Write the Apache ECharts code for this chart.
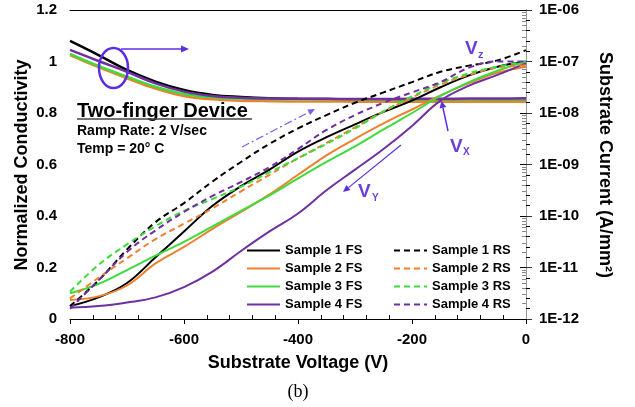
<!DOCTYPE html>
<html>
<head>
<meta charset="utf-8">
<script src="https://cdn.jsdelivr.net/npm/echarts@6/dist/echarts.min.js"></script>
<style>
  html, body { margin: 0; padding: 0; background: #fff; }
  #main { width: 635px; height: 407px; }
</style>
</head>
<body>
<div id="main"></div>
<script>
// substrate voltage (V)
var voltage = [-800, -750, -700, -650, -600, -550, -500, -450, -400, -350, -300, -250, -200, -150, -100, -50, 0];

// normalized conductivity (left axis)
var condS1 = [1.08, 1.025, 0.967, 0.922, 0.889, 0.870, 0.862, 0.857, 0.855, 0.854, 0.853, 0.853, 0.852, 0.852, 0.853, 0.852, 0.852];
var condS2 = [1.025, 0.978, 0.935, 0.895, 0.866, 0.853, 0.848, 0.846, 0.845, 0.845, 0.844, 0.844, 0.844, 0.844, 0.844, 0.844, 0.844];
var condS3 = [1.03, 0.983, 0.941, 0.902, 0.874, 0.861, 0.856, 0.854, 0.853, 0.853, 0.853, 0.852, 0.852, 0.852, 0.852, 0.852, 0.852];
var condS4 = [1.045, 1.002, 0.96, 0.915, 0.883, 0.866, 0.859, 0.856, 0.855, 0.855, 0.854, 0.854, 0.855, 0.855, 0.856, 0.856, 0.857];

// substrate current A/mm2 (right axis), forward sweep
var s1FS = [1.78e-12, 2.63e-12, 5.0e-12, 1.58e-11, 5.0e-11, 1.58e-10, 3.8e-10, 7.94e-10, 1.78e-9, 3.39e-9, 6.03e-9, 1.05e-8, 1.74e-8, 3.16e-8, 5.37e-8, 7.94e-8, 1.0e-7];
var s2FS = [2.34e-12, 2.75e-12, 4.47e-12, 1.2e-11, 2.51e-11, 5.62e-11, 1.2e-10, 2.63e-10, 6.31e-10, 1.51e-9, 3.16e-9, 6.31e-9, 1.17e-8, 2.19e-8, 3.8e-8, 6.03e-8, 7.94e-8];
var s3FS = [3.16e-12, 4.79e-12, 8.91e-12, 1.7e-11, 3.16e-11, 6.31e-11, 1.26e-10, 2.51e-10, 5.37e-10, 1.12e-9, 2.24e-9, 4.79e-9, 1.0e-8, 2.14e-8, 3.98e-8, 6.61e-8, 1.0e-7];
var s4FS = [1.66e-12, 1.78e-12, 2.09e-12, 2.63e-12, 4.17e-12, 8.32e-12, 2.09e-11, 5.01e-11, 1.12e-10, 3.16e-10, 7.94e-10, 2.0e-9, 5.62e-9, 1.74e-8, 3.39e-8, 5.5e-8, 9.33e-8];
// reverse sweep
var s1RS = [1.78e-12, 5.62e-12, 2.24e-11, 7.59e-11, 1.78e-10, 4.68e-10, 1.12e-9, 2.51e-9, 5.01e-9, 9.12e-9, 1.58e-8, 2.51e-8, 3.98e-8, 6.31e-8, 8.32e-8, 1.05e-7, 1.66e-7];
var s2RS = [2.51e-12, 6.31e-12, 1.51e-11, 3.55e-11, 7.08e-11, 1.41e-10, 3.02e-10, 6.31e-10, 1.32e-9, 2.63e-9, 5.25e-9, 1.07e-8, 2.0e-8, 3.55e-8, 5.5e-8, 7.59e-8, 8.51e-8];
var s3RS = [3.39e-12, 1.12e-11, 2.82e-11, 6.31e-11, 1.26e-10, 2.14e-10, 3.72e-10, 7.08e-10, 1.32e-9, 2.51e-9, 5.01e-9, 1.07e-8, 2.09e-8, 3.8e-8, 5.89e-8, 7.94e-8, 1.0e-7];
var s4RS = [1.58e-12, 5.62e-12, 2.0e-11, 5.25e-11, 1.2e-10, 2.45e-10, 4.57e-10, 8.91e-10, 2.0e-9, 4.68e-9, 9.12e-9, 1.58e-8, 2.51e-8, 3.98e-8, 7.59e-8, 1.0e-7, 1.0e-7];

var fsNames = ['Sample 1 FS', 'Sample 2 FS', 'Sample 3 FS', 'Sample 4 FS'];
var rsNames = ['Sample 1 RS', 'Sample 2 RS', 'Sample 3 RS', 'Sample 4 RS'];
var colors = ['#000000', '#f0802e', '#3cdc3c', '#7030a0'];

var FONT = '"Liberation Sans", Arial, sans-serif';
var VIOLET = '#5b2ee6';

function pairs(ys) {
    return voltage.map(function (v, i) { return [v, ys[i]]; });
}

// log minor tick positions for the right axis (k * 10^n)
var minorLog = [];
for (var n = -12; n < -6; n++) {
    for (var k = 2; k <= 9; k++) minorLog.push(n + Math.log10(k));
}

function arrow(x1, y1, x2, y2, color, w, head, hw, dash) {
    var a = Math.atan2(y2 - y1, x2 - x1);
    var bx = x2 - head * Math.cos(a), by = y2 - head * Math.sin(a);
    return [
        { type: 'line', z: 100, shape: { x1: x1, y1: y1, x2: bx, y2: by },
          style: { stroke: color, lineWidth: w, lineDash: dash || null } },
        { type: 'polygon', z: 100, shape: { points: [[x2, y2],
            [bx - hw * Math.sin(a), by + hw * Math.cos(a)],
            [bx + hw * Math.sin(a), by - hw * Math.cos(a)]] },
          style: { fill: color } }
    ];
}

function txt(x, y, text, font, color, align, rot) {
    return { type: 'text', z: 100, x: x, y: y, rotation: rot || 0,
        style: { text: text, font: font, fill: color || '#000', align: align || 'left', verticalAlign: 'middle' } };
}

var chart = echarts.init(document.getElementById('main'));

var series = [];
[condS1, condS2, condS3, condS4].forEach(function (d, i) {
    series.push({ name: 'cond' + (i + 1), type: 'line', xAxisIndex: 0, yAxisIndex: 0, data: pairs(d),
        symbol: 'none', smooth: 0.4, lineStyle: { color: colors[i], width: 2.5 }, itemStyle: { color: colors[i] } });
});
[s1FS, s2FS, s3FS, s4FS].forEach(function (d, i) {
    series.push({ name: fsNames[i], type: 'line', xAxisIndex: 0, yAxisIndex: 1, data: pairs(d),
        symbol: 'none', smooth: 0.4, lineStyle: { color: colors[i], width: 2 }, itemStyle: { color: colors[i] } });
});
[s1RS, s2RS, s3RS, s4RS].forEach(function (d, i) {
    series.push({ name: rsNames[i], type: 'line', xAxisIndex: 0, yAxisIndex: 1, data: pairs(d),
        symbol: 'none', smooth: 0.4, lineStyle: { color: colors[i], width: 2, type: [6, 4] }, itemStyle: { color: colors[i] } });
});

var legendBase = {
    orient: 'vertical', top: 244, itemWidth: 33, itemHeight: 12, itemGap: 5, padding: 0,
    itemStyle: { opacity: 0 },
    textStyle: { fontFamily: FONT, fontWeight: 'bold', fontSize: 13, color: '#000' }
};

var graphics = [
    // circle around conductivity curves and its arrow
    { type: 'ellipse', z: 100, shape: { cx: 113.5, cy: 68, rx: 14.5, ry: 20 },
      style: { stroke: VIOLET, lineWidth: 2.5, fill: null } },
    txt(77, 111, 'Two-finger Device', 'bold 20px ' + FONT),
    { type: 'line', z: 100, shape: { x1: 77, y1: 119, x2: 252, y2: 119 }, style: { stroke: '#444', lineWidth: 1.5 } },
    txt(77, 131, 'Ramp Rate: 2 V/sec', 'bold 14px ' + FONT),
    txt(77, 149, 'Temp = 20\u00b0 C', 'bold 14px ' + FONT),
    txt(465, 49, 'V', 'bold 19px ' + FONT, '#6a3fdc'),
    txt(478, 55, 'z', 'bold 11px ' + FONT, '#6a3fdc'),
    txt(450, 147, 'V', 'bold 19px ' + FONT, '#6a3fdc'),
    txt(463, 152, 'X', 'bold 10px ' + FONT, '#6a3fdc'),
    txt(358, 192, 'V', 'bold 19px ' + FONT, '#6a3fdc'),
    txt(372, 198, 'Y', 'bold 10px ' + FONT, '#6a3fdc'),
    txt(22, 165, 'Normalized Conductivity', 'bold 18px ' + FONT, '#000', 'center', Math.PI / 2),
    txt(605, 165, 'Substrate Current (A/mm\u00b2)', 'bold 18px ' + FONT, '#000', 'center', -Math.PI / 2),
    txt(298, 363, 'Substrate Voltage (V)', 'bold 18px ' + FONT, '#000', 'center'),
    txt(298, 392, '(b)', '18px "Liberation Serif", "Times New Roman", serif', '#000', 'center')
];
graphics = graphics
    .concat(arrow(121, 49, 189, 49, VIOLET, 1.5, 8, 3.5))
    .concat(arrow(448, 131, 441.5, 101, VIOLET, 1.5, 7, 3.5))
    .concat(arrow(401, 145, 343, 192, VIOLET, 1.2, 7, 3.2))
    .concat(arrow(242, 147, 315, 109, '#7a5cf0', 1.2, 7, 3.2, [8, 3, 2, 3]));

chart.setOption({
    animation: false,
    backgroundColor: '#fff',
    grid: { left: 70, right: 109, top: 10, bottom: 88 },
    xAxis: [{
        type: 'value', min: -800, max: 0, interval: 200, position: 'bottom',
        axisLine: { show: true, lineStyle: { color: '#000', width: 1 } },
        axisTick: { show: true, length: 5, lineStyle: { color: '#000' } },
        minorTick: { show: true, splitNumber: 5, length: -4, lineStyle: { color: '#000' } },
        splitLine: { show: false },
        axisLabel: { margin: 13, fontFamily: FONT, fontWeight: 'bold', fontSize: 15, color: '#000' }
    }, {
        type: 'value', min: -800, max: 0, position: 'top',
        axisLine: { show: true, lineStyle: { color: '#000', width: 1 } },
        axisTick: { show: false }, axisLabel: { show: false }, splitLine: { show: false }
    }],
    yAxis: [{
        type: 'value', min: 0, max: 1.2, interval: 0.2, position: 'left',
        axisLine: { show: true, lineStyle: { color: '#000', width: 1 } },
        axisTick: { show: true, length: 6, lineStyle: { color: '#000' } },
        minorTick: { show: true, splitNumber: 5, length: -4, lineStyle: { color: '#000' } },
        splitLine: { show: false },
        axisLabel: { margin: 13, fontFamily: FONT, fontWeight: 'bold', fontSize: 15, color: '#000' }
    }, {
        type: 'log', logBase: 10, min: 1e-12, max: 1e-6, splitNumber: 6, position: 'right',
        axisLine: { show: true, lineStyle: { color: '#999', width: 1 } },
        axisTick: { show: true, length: 6, lineStyle: { color: '#333' } },
        splitLine: { show: false },
        axisLabel: { margin: 13, fontFamily: FONT, fontWeight: 'bold', fontSize: 15, color: '#000',
            formatter: function (v) {
                var e = Math.round(Math.log10(v));
                return '1E-' + String(-e).padStart(2, '0');
            } }
    }, {
        type: 'value', min: -12, max: -6, position: 'right',
        axisLine: { show: false }, splitLine: { show: false }, axisLabel: { show: false },
        axisTick: { show: true, inside: true, length: 4, customValues: minorLog, lineStyle: { color: '#888' } }
    }],
    legend: [
        Object.assign({}, legendBase, { left: 246, data: fsNames }),
        Object.assign({}, legendBase, { left: 393, data: rsNames })
    ],
    series: series,
    graphic: graphics
});
</script>
</body>
</html>
